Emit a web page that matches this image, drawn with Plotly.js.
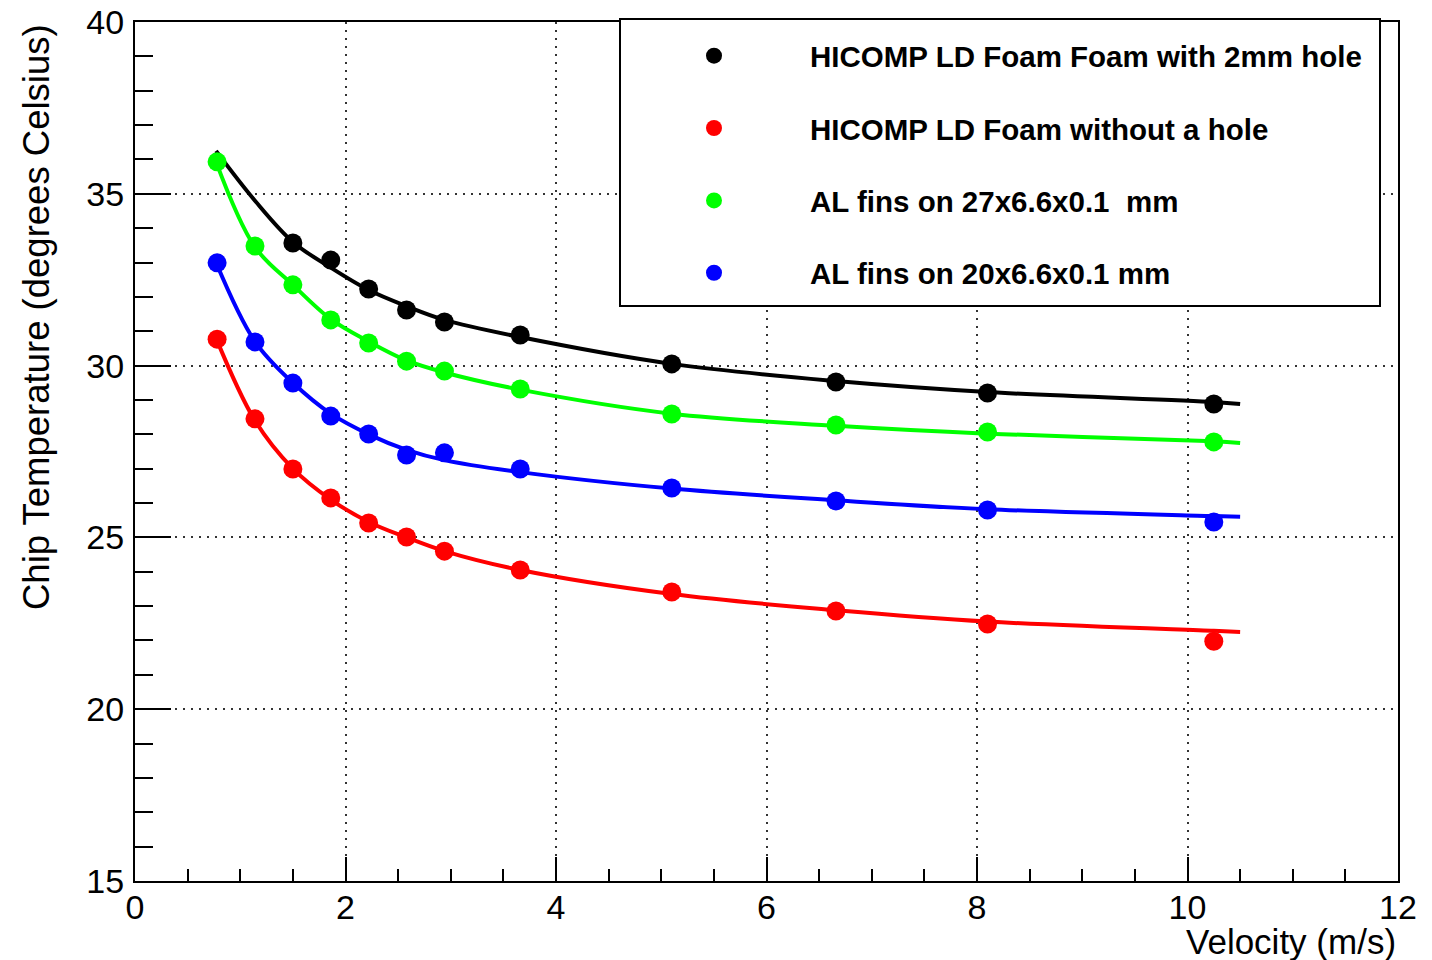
<!DOCTYPE html>
<html>
<head>
<meta charset="utf-8">
<script src="https://cdn.plot.ly/plotly-3.0.1.min.js"></script>
<style>
  html, body { margin: 0; padding: 0; background: #fff; }
  #chart { width: 1432px; height: 960px; }
</style>
</head>
<body>
<div id="chart"></div>
<script>
// ---- data ----
const velocity = [0.78, 1.14, 1.5, 1.86, 2.22, 2.58, 2.94, 3.66, 5.1, 6.66, 8.1, 10.25];
const tempFoamHole   = [null, null, 33.57, 33.07, 32.23, 31.62, 31.27, 30.89, 30.05, 29.52, 29.20, 28.88];
const tempFoamNoHole = [30.77, 28.45, 26.99, 26.15, 25.42, 25.01, 24.60, 24.05, 23.41, 22.86, 22.48, 21.98];
const tempFins27     = [35.93, 33.48, 32.35, 31.33, 30.66, 30.13, 29.84, 29.32, 28.59, 28.27, 28.07, 27.78];
const tempFins20     = [32.99, 30.69, 29.49, 28.53, 28.01, 27.40, 27.46, 26.99, 26.44, 26.06, 25.80, 25.45];

// fitted curves
const fitVelocity   = [0.77, 1.14, 1.5, 1.86, 2.22, 2.58, 2.94, 3.66, 5.1, 6.66, 8.1, 10.25, 10.5];
const fitFoamHole   = [36.25, 34.8, 33.6, 32.85, 32.2, 31.73, 31.33, 30.83, 30.05, 29.55, 29.23, 28.94, 28.88];
const fitFoamNoHole = [30.8, 28.4, 27.0, 26.1, 25.45, 25.0, 24.6, 24.05, 23.35, 22.88, 22.55, 22.28, 22.25];
const fitFins27     = [35.93, 33.45, 32.35, 31.35, 30.7, 30.15, 29.8, 29.3, 28.6, 28.25, 28.02, 27.8, 27.75];
const fitFins20     = [33.0, 30.7, 29.5, 28.6, 28.0, 27.55, 27.25, 26.9, 26.42, 26.08, 25.82, 25.62, 25.6];

const seriesNames = [
  'HICOMP LD Foam Foam with 2mm hole',
  'HICOMP LD Foam without a hole',
  'AL fins on 27x6.6x0.1  mm',
  'AL fins on 20x6.6x0.1 mm'
];
const seriesColors = ['#000000', '#ff0000', '#00ff00', '#0000ff'];
const seriesData = [tempFoamHole, tempFoamNoHole, tempFins27, tempFins20];
const fitData = [fitFoamHole, fitFoamNoHole, fitFins27, fitFins20];

// ---- layout geometry (pixels) ----
const W = 1432, H = 960;
const L = 135, R = 1398, T = 22, B = 881;
const pw = R - L, ph = B - T;
const px = v => (v - L) / pw;
const py = v => (B - v) / ph;

const traces = [];
for (let i = 0; i < 4; i++) {
  traces.push({
    x: fitVelocity, y: fitData[i], type: 'scatter', mode: 'lines',
    line: { color: seriesColors[i], width: 4, shape: 'spline', smoothing: 1 },
    showlegend: false, hoverinfo: 'skip'
  });
}
for (let i = 0; i < 4; i++) {
  traces.push({
    x: velocity, y: seriesData[i], type: 'scatter', mode: 'markers',
    name: seriesNames[i], legendgroup: 'g' + i,
    marker: { color: seriesColors[i], size: 19, line: { width: 0 } }
  });
}

const font = 'Liberation Sans, Arial, Helvetica, sans-serif';

const layout = {
  width: W, height: H,
  margin: { l: L, r: W - R, t: T, b: H - B, pad: 0 },
  paper_bgcolor: '#ffffff', plot_bgcolor: '#ffffff',
  font: { family: font, color: '#000' },
  showlegend: true,
  legend: {
    x: px(618), y: py(30), xanchor: 'left', yanchor: 'top',
    bgcolor: 'rgba(0,0,0,0)', borderwidth: 0,
    font: { family: font, size: 29.5, color: '#000', weight: 'bold' },
    itemwidth: 182, tracegroupgap: 31, itemclick: false
  },
  xaxis: {
    range: [0, 12], dtick: 2, tick0: 0,
    ticks: 'inside', ticklen: 24, tickwidth: 2, tickcolor: '#000',
    showline: true, linecolor: '#000', linewidth: 2, mirror: true,
    showgrid: true, gridcolor: '#333', gridwidth: 2, griddash: '2px,6px',
    zeroline: false, ticklabelstandoff: -5,
    tickfont: { family: font, size: 34, color: '#000' },
    minor: { dtick: 0.5, ticks: 'inside', ticklen: 12, tickwidth: 2, tickcolor: '#000', showgrid: false }
  },
  yaxis: {
    range: [15, 40], dtick: 5, tick0: 15,
    ticks: 'inside', ticklen: 36, tickwidth: 2, tickcolor: '#000',
    showline: true, linecolor: '#000', linewidth: 2, mirror: true,
    showgrid: true, gridcolor: '#333', gridwidth: 2, griddash: '2px,6px',
    zeroline: false, ticklabelstandoff: 2,
    tickfont: { family: font, size: 34, color: '#000' },
    minor: { dtick: 1, ticks: 'inside', ticklen: 18, tickwidth: 2, tickcolor: '#000', showgrid: false }
  },
  shapes: [{
    type: 'rect', xref: 'paper', yref: 'paper', layer: 'above',
    x0: px(620), x1: px(1380), y0: py(306), y1: py(19),
    line: { color: '#000', width: 2 }, fillcolor: '#ffffff'
  }],
  annotations: [
    {
      text: 'Velocity (m/s)', xref: 'paper', yref: 'paper',
      x: 1, y: py(941), xanchor: 'right', yanchor: 'middle', showarrow: false,
      font: { family: font, size: 35, color: '#000' }
    },
    {
      text: 'Chip Temperature (degrees Celsius)', xref: 'paper', yref: 'paper',
      x: px(36), y: 1, xanchor: 'center', yanchor: 'top', showarrow: false, textangle: -90,
      font: { family: font, size: 36.5, color: '#000' }
    }
  ]
};

Plotly.newPlot('chart', traces, layout, { displayModeBar: false, staticPlot: true });
</script>
</body>
</html>
